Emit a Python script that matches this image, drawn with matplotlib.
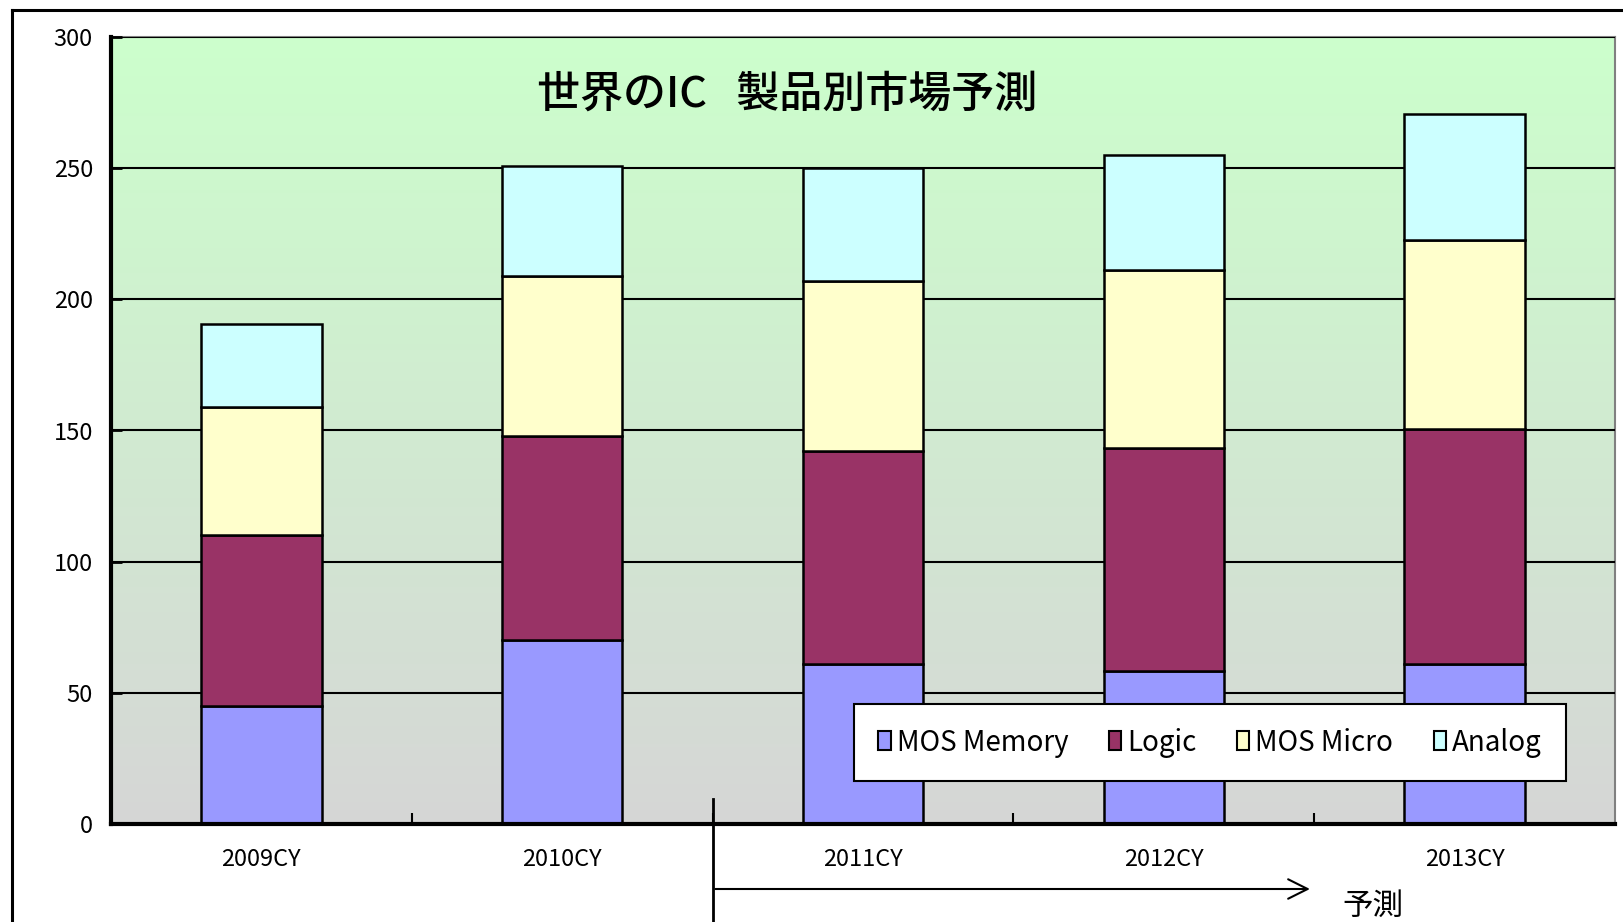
import numpy as np
import matplotlib
matplotlib.use("Agg")
import matplotlib.pyplot as plt
import matplotlib.transforms as mtransforms
from matplotlib.patches import Patch
from matplotlib.lines import Line2D

plt.rcParams['font.family'] = ['Noto Sans CJK JP', 'DejaVu Sans']

categories = ["2009CY", "2010CY", "2011CY", "2012CY", "2013CY"]
series_names = ["MOS Memory", "Logic", "MOS Micro", "Analog"]
mos_memory = [45, 70, 61, 58.5, 61]
logic = [65, 78, 81, 85, 89.5]
mos_micro = [49, 61, 65, 67.5, 72]
analog = [31.5, 42, 43, 44, 48]
colors = ["#9999FF", "#993366", "#FFFFCC", "#CCFFFF"]
yticks = [0, 50, 100, 150, 200, 250, 300]
title = "世界のIC   製品別市場予測"
forecast_label = "予測"

W, H = 1623, 922
fig = plt.figure(figsize=(W / 100, H / 100), dpi=100)
fig.patch.set_facecolor("white")

# outer frame (top and left visible)
fig.add_artist(Line2D([12 / W, 1.01], [1 - 10 / H, 1 - 10 / H], color="black", lw=2.2,
                      transform=fig.transFigure))
fig.add_artist(Line2D([12 / W, 12 / W], [1 - 10 / H, -0.01], color="black", lw=2.2,
                      transform=fig.transFigure))

ax = fig.add_axes([111 / W, 1 - 824 / H, (1615 - 111) / W, (824 - 37) / H])

# gradient background
grad = np.linspace(0, 1, 256).reshape(-1, 1)
top = np.array([204, 255, 204]) / 255
bot = np.array([214, 214, 214]) / 255
img = (bot[None, None, :] * (1 - grad[..., None]) + top[None, None, :] * grad[..., None])
ax.imshow(img, extent=[-0.5, 4.5, 0, 300], origin="lower", aspect="auto", zorder=0)

x = np.arange(len(categories))
data = [mos_memory, logic, mos_micro, analog]
bottom = np.zeros(len(categories))
for vals, c, name in zip(data, colors, series_names):
    ax.bar(x, vals, width=0.4, bottom=bottom, color=c, edgecolor="black", lw=1.8,
           zorder=3, label=name)
    bottom += np.array(vals)

ax.set_xlim(-0.5, 4.5)
ax.set_ylim(0, 300)
ax.set_yticks(yticks)
ax.set_yticklabels([str(v) for v in yticks], fontsize=17)
ax.yaxis.grid(True, color="black", lw=1.5, zorder=1)
ax.set_axisbelow(False)
for gl in ax.get_ygridlines():
    gl.set_zorder(1)

ax.set_xticks(x)
ax.set_xticklabels(categories, fontsize=17)
ax.tick_params(axis="x", length=0, pad=17)
ax.set_xticks(np.arange(0.5, 4.5, 1), minor=True)
ax.tick_params(axis="x", which="minor", direction="in", length=8, width=1.5, color="black")
ax.tick_params(axis="y", direction="in", length=8, width=2, pad=13)

for s in ["top", "right"]:
    ax.spines[s].set_color("#808080")
    ax.spines[s].set_linewidth(1.5)
for s in ["left", "bottom"]:
    ax.spines[s].set_color("black")
    ax.spines[s].set_linewidth(3)
    ax.spines[s].set_zorder(5)

# title
fig.text(787 / W, 1 - 94 / H, title, fontsize=31, ha="center", va="center", weight="medium")

# legend
handles = [Patch(facecolor=c, edgecolor="black", lw=1.5) for c in colors]
leg = fig.legend(handles, series_names, loc="center", ncol=4,
                 bbox_to_anchor=((849 + 1571) / 2 / W, 1 - (706 + 779) / 2 / H),
                 fontsize=20, frameon=True, fancybox=False, edgecolor="black",
                 framealpha=1, handlelength=0.45, handleheight=0.65, handletextpad=0.22,
                 columnspacing=1.45, borderpad=0.85, borderaxespad=0)
leg.get_frame().set_linewidth(1.5)
leg.set_zorder(10)

# forecast arrow
blend = mtransforms.blended_transform_factory(ax.transData, fig.transFigure)
fig.add_artist(Line2D([1.5, 1.5], [1 - 799 / H, -0.01], color="black", lw=2,
                      transform=blend, clip_on=False))
ax.annotate("", xy=(3.495, 1 - 889 / H), xytext=(1.5, 1 - 889 / H),
            xycoords=blend, textcoords=blend,
            arrowprops=dict(arrowstyle="->", lw=1.5, color="black", mutation_scale=35),
            annotation_clip=False)
fig.text(3.695, 1 - 906 / H, forecast_label, transform=blend, fontsize=22,
         ha="center", va="center")

fig.savefig("out.png", dpi=100)
